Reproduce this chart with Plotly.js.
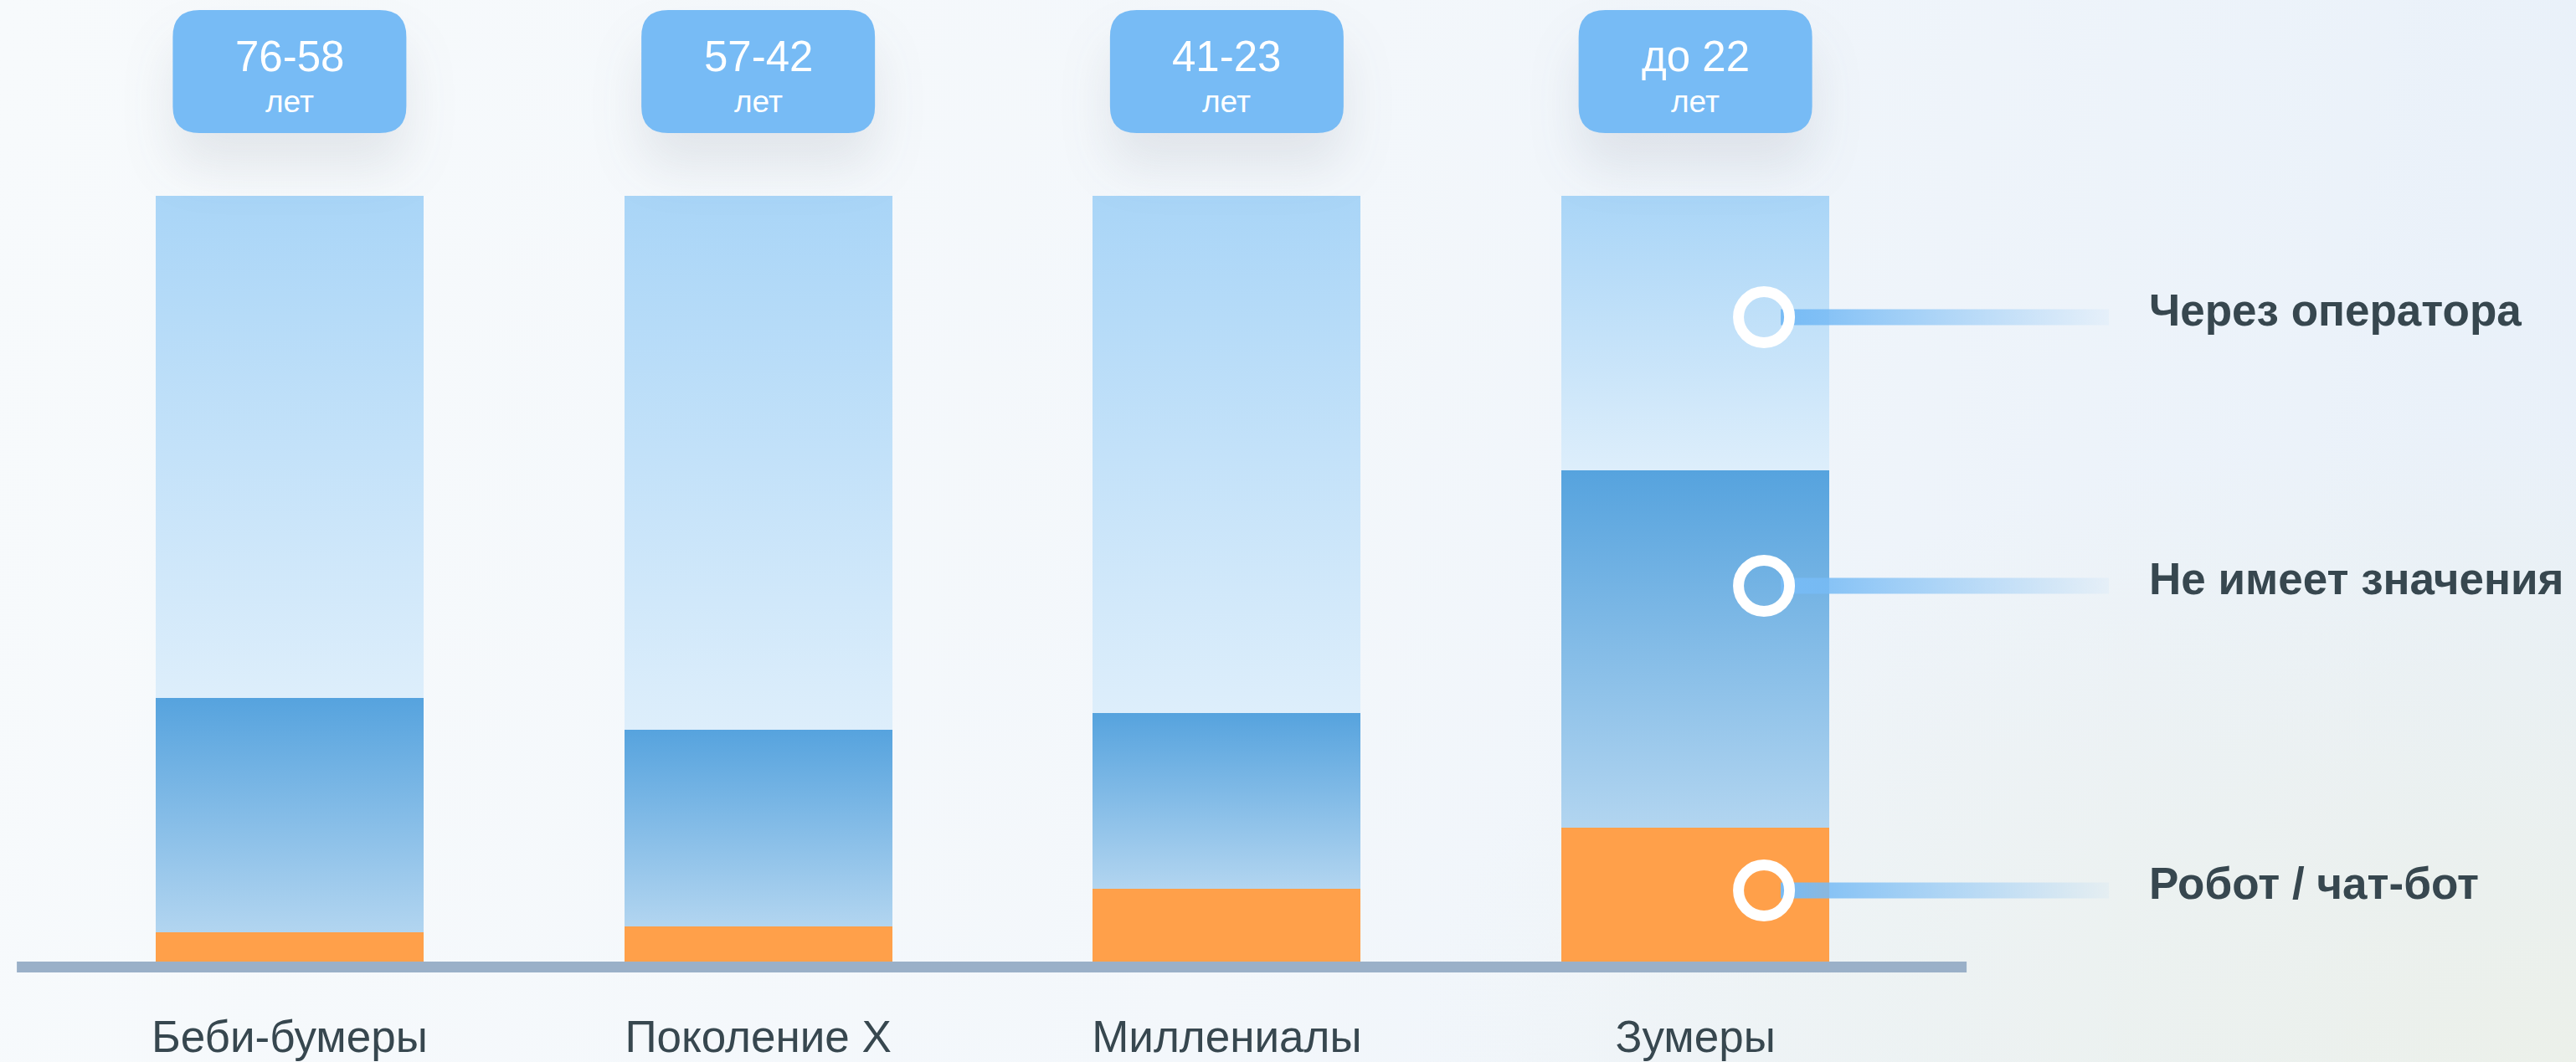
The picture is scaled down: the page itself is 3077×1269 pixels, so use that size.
<!DOCTYPE html>
<html><head><meta charset="utf-8">
<script src="https://cdn.plot.ly/plotly-3.0.1.min.js"></script>
<style>
html,body{margin:0;padding:0;width:3077px;height:1269px;overflow:hidden;}
body{background:
 radial-gradient(ellipse 45% 60% at 100% 100%, rgba(236,240,232,0.9) 0%, rgba(236,240,232,0) 100%),
 linear-gradient(100deg, #F7FAFC 0%, #F3F7FB 50%, #E8F0F9 100%);}
#chart{width:3077px;height:1269px;}
</style></head><body>
<div id="chart"></div>
<svg width="0" height="0" style="position:absolute">
<defs>
<linearGradient id="gOp" x1="0" y1="0" x2="0" y2="1"><stop offset="0" stop-color="#A9D5F7"/><stop offset="1" stop-color="#DDEEFB"/></linearGradient>
<linearGradient id="gMid" x1="0" y1="0" x2="0" y2="1"><stop offset="0" stop-color="#56A3DE"/><stop offset="1" stop-color="#B2D5F0"/></linearGradient>
<linearGradient id="gLine" x1="0" y1="0" x2="1" y2="0"><stop offset="0" stop-color="#77BBF5"/><stop offset="1" stop-color="#77BBF5" stop-opacity="0.06"/></linearGradient>
</defs></svg>
<script>
// ---- data ----
const categories = ['Беби-бумеры', 'Поколение X', 'Миллениалы', 'Зумеры'];
const ageRange = ['76-58', '57-42', '41-23', 'до 22'];
const ageUnit = ['лет', 'лет', 'лет', 'лет'];
const seriesNames = ['Робот / чат-бот', 'Не имеет значения', 'Через оператора'];
const robot = [3.8, 4.6, 9.5, 17.5];
const noMatter = [30.6, 25.7, 23.0, 46.6];
const operator = [65.6, 69.7, 67.5, 35.9];

const FONT = 'Liberation Sans, Arial, Helvetica, sans-serif';
const TEXT = '#37474F';

const seriesValues = [robot, noMatter, operator];
const seriesColors = ['#FFA04A', '#7DB9E8', '#C6E2F9'];

const traces = seriesValues.map((vals, k) => ({
  type: 'bar',
  name: seriesNames[k],
  x: categories,
  y: vals,
  marker: {color: seriesColors[k], line: {width: 0}},
  hoverinfo: 'skip'
}));

// ---- decorations ----
const shapes = [];
const annotations = [];

// rounded label boxes above bars
const bw = 139.5, bh = 73.5, r = 32;
const boxPath =
  `M ${-bw + r},${-bh} H ${bw - r} Q ${bw},${-bh} ${bw},${-bh + r} V ${bh - r} Q ${bw},${bh} ${bw - r},${bh} ` +
  `H ${-bw + r} Q ${-bw},${bh} ${-bw},${bh - r} V ${-bh + r} Q ${-bw},${-bh} ${-bw + r},${-bh} Z`;
const boxShapeIdx = [];
categories.forEach((c, i) => {
  boxShapeIdx.push(shapes.length);
  shapes.push({type: 'path', xref: 'x', xsizemode: 'pixel', xanchor: i,
    yref: 'paper', ysizemode: 'pixel', yanchor: 1.1623,
    path: boxPath, fillcolor: '#77BBF5', line: {width: 0}, layer: 'above'});
  annotations.push({xref: 'x', x: i, yref: 'paper', y: 1.1825, yanchor: 'middle',
    text: ageRange[i], showarrow: false, font: {family: FONT, size: 51, color: '#FFFFFF'}});
  annotations.push({xref: 'x', x: i, yref: 'paper', y: 1.1225, yanchor: 'middle',
    text: ageUnit[i], showarrow: false, font: {family: FONT, size: 37, color: '#FFFFFF'}});
});

// baseline
shapes.push({type: 'rect', xref: 'paper', x0: -0.0205, x1: 1.0197,
  yref: 'paper', ysizemode: 'pixel', yanchor: 0, y0: 0, y1: -13,
  fillcolor: '#9AB0C8', line: {width: 0}, layer: 'above'});

// legend markers (top to bottom: operator, no matter, robot)
const legendY = [0.8415, 0.4907, 0.0929];
const legendOrder = [2, 1, 0];
const markerX = 0.9116;
const lineShapeIdx = [];
legendOrder.forEach((s, j) => {
  lineShapeIdx.push(shapes.length);
  shapes.push({type: 'rect', xref: 'paper', xsizemode: 'pixel', xanchor: markerX, x0: 20, x1: 412,
    yref: 'paper', ysizemode: 'pixel', yanchor: legendY[j], y0: -9.5, y1: 9.5,
    fillcolor: '#77BBF5', line: {width: 0}, layer: 'above'});
  shapes.push({type: 'circle', xref: 'paper', xsizemode: 'pixel', xanchor: markerX, x0: -30.5, x1: 30.5,
    yref: 'paper', ysizemode: 'pixel', yanchor: legendY[j], y0: -30.5, y1: 30.5,
    fillcolor: 'rgba(0,0,0,0)', line: {color: '#FFFFFF', width: 13}, layer: 'above'});
  annotations.push({xref: 'paper', x: 1.1161, xanchor: 'left', yref: 'paper', y: legendY[j] + 0.0088,
    yanchor: 'middle', text: seriesNames[s], showarrow: false,
    font: {family: FONT, size: 53, color: TEXT, weight: 'bold'}});
});

const layout = {
  width: 3077, height: 1269,
  margin: {l: 66, r: 772, t: 234, b: 120, pad: 0},
  paper_bgcolor: 'rgba(0,0,0,0)', plot_bgcolor: 'rgba(0,0,0,0)',
  barmode: 'stack', bargap: 0.428,
  showlegend: false,
  xaxis: {type: 'category', range: [-0.5, 3.5], showgrid: false, zeroline: false, showline: false,
    ticks: '', ticklabelstandoff: 54, tickfont: {family: FONT, size: 53, color: TEXT}, fixedrange: true},
  yaxis: {range: [0, 100], visible: false, fixedrange: true},
  shapes: shapes,
  annotations: annotations,
  hovermode: false
};

Plotly.newPlot('chart', traces, layout, {displayModeBar: false, staticPlot: true}).then(gd => {
  const tr = gd.querySelectorAll('.barlayer .trace');
  if (tr[1]) tr[1].querySelectorAll('path').forEach(p => p.style.fill = 'url(#gMid)');
  if (tr[2]) tr[2].querySelectorAll('path').forEach(p => p.style.fill = 'url(#gOp)');
  lineShapeIdx.forEach(k => {
    gd.querySelectorAll(`.shapelayer path[data-index="${k}"]`).forEach(p => p.style.fill = 'url(#gLine)');
  });
  boxShapeIdx.forEach(k => {
    gd.querySelectorAll(`.shapelayer path[data-index="${k}"]`).forEach(p =>
      p.style.filter = 'drop-shadow(0px 40px 30px rgba(60,70,90,0.10))');
  });
});
</script>
</body></html>
